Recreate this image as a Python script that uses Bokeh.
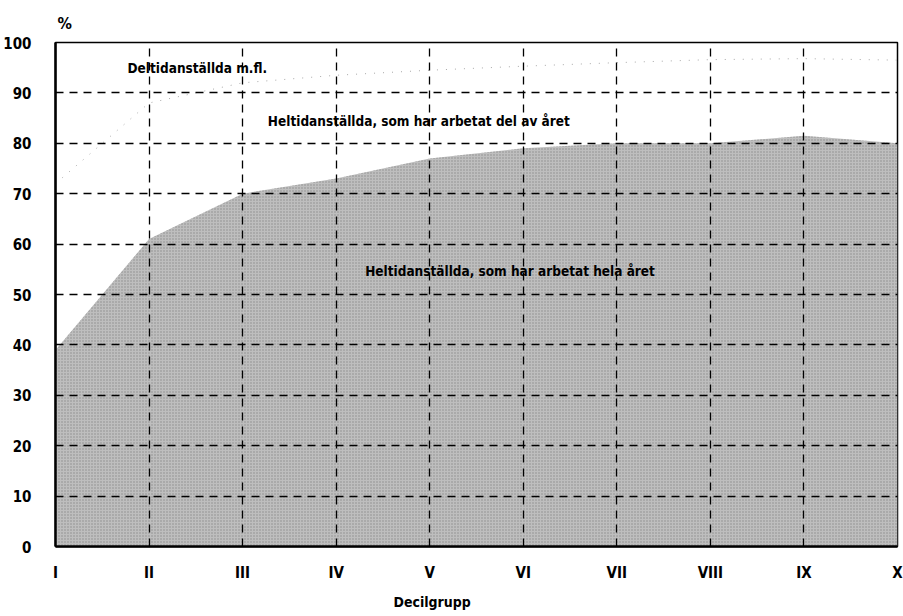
from bokeh.plotting import figure
from bokeh.models import FixedTicker, Label, ColumnDataSource, Title
from bokeh.embed import file_html
from bokeh.resources import INLINE

# Data
decile_pos = [1, 2, 3, 4, 5, 6, 7, 8, 9, 10]
decile_labels = ["I", "II", "III", "IV", "V", "VI", "VII", "VIII", "IX", "X"]
full_year = [39, 61, 70, 73, 77, 79, 80, 80, 81.5, 80]          # heltid hela året
full_plus_part = [72, 88, 92, 93.5, 94.5, 95.3, 96, 96.6, 96.8, 96.5]  # + heltid del av året
y_ticks = [0, 10, 20, 30, 40, 50, 60, 70, 80, 90, 100]

FONT = "DejaVu Sans Condensed"

src = ColumnDataSource(dict(x=decile_pos, full=full_year, top=full_plus_part,
                            zero=[0] * len(decile_pos)))

p = figure(width=903, height=616, x_range=(1, 10), y_range=(0, 100),
           output_backend="svg", toolbar_location=None,
           min_border_left=55, min_border_right=6, min_border_top=42, min_border_bottom=52)

p.title.text = "%"
p.title.align = "left"
p.title.offset = 2
p.title.text_font = FONT
p.title.text_font_style = "bold"
p.title.text_font_size = "16px"
p.title.text_color = "black"
p.title.standoff = 19

p.varea(x="x", y1="zero", y2="full", source=src, fill_color="#bebebe",
        hatch_pattern="dot", hatch_color="#8c8c8c", hatch_scale=3, hatch_weight=1)
p.line(x="x", y="top", source=src, line_color="#a8a8a8", line_width=1, line_dash="1 8")

p.outline_line_color = "black"
p.outline_line_width = 1.5

p.xaxis.ticker = FixedTicker(ticks=decile_pos)
p.xaxis.major_label_overrides = {k: v for k, v in zip(decile_pos, decile_labels)}
p.yaxis.ticker = FixedTicker(ticks=y_ticks)
p.xgrid.ticker = FixedTicker(ticks=decile_pos)
p.ygrid.ticker = FixedTicker(ticks=y_ticks)

for ax in (p.xaxis, p.yaxis):
    ax.axis_line_color = "black"
    ax.axis_line_width = 2.5
    ax.major_tick_line_color = None
    ax.minor_tick_line_color = None
    ax.major_label_text_font = FONT
    ax.major_label_text_font_style = "bold"
    ax.major_label_text_font_size = "15px"
    ax.major_label_text_color = "black"
p.xaxis.major_label_standoff = 11
p.yaxis.major_label_standoff = 18

p.grid.grid_line_color = "black"
p.grid.grid_line_width = 1.3
p.grid.grid_line_dash = "8 6"
p.grid.level = "annotation"

def lab(x, y, text):
    p.add_layout(Label(x=x, y=y, text=text, text_font=FONT, text_font_style="bold",
                       text_font_size="13.5px", text_color="black",
                       text_baseline="middle", text_align="left"))

lab(1.77, 95, "Deltidanställda m.fl.")
lab(3.27, 84.5, "Heltidanställda, som har arbetat del av året")
lab(4.31, 54.7, "Heltidanställda, som har arbetat hela året")

p.add_layout(Title(text="Decilgrupp", align="left", offset=338, text_font=FONT,
                   text_font_style="bold", text_font_size="14px", text_color="black",
                   standoff=14), "below")

open("out.html", "w").write(file_html(p, INLINE))
